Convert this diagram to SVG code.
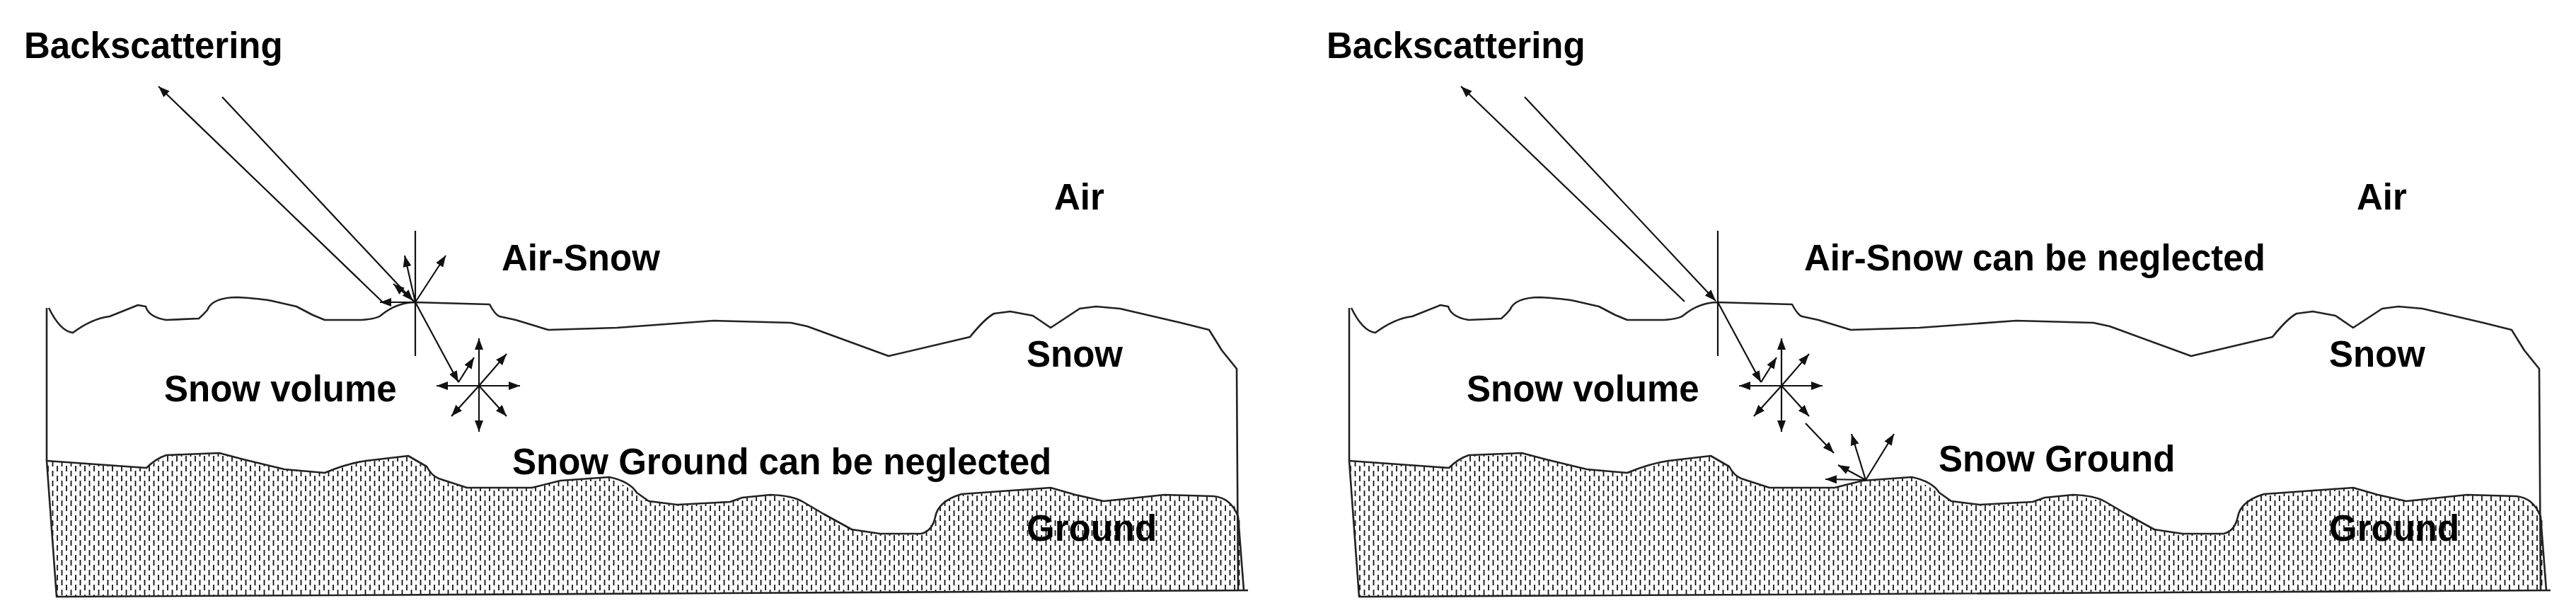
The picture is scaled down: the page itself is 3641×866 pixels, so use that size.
<svg xmlns="http://www.w3.org/2000/svg" xmlns:xlink="http://www.w3.org/1999/xlink" width="3641" height="866" viewBox="0 0 3641 866">
<style>
.t{font-family:"Liberation Sans",Arial,sans-serif;font-weight:bold;font-size:51px;fill:#000}
.c{fill:none;stroke:#222;stroke-width:2.6;stroke-linejoin:round}
.a{stroke:#111;stroke-width:2.2;fill:none}
.h{fill:url(#hatch)}
</style>
<defs>
<pattern id="hatch" patternUnits="userSpaceOnUse" width="13" height="14">
<line x1="3" y1="0" x2="3" y2="8" stroke="#111" stroke-width="1.8"/>
<line x1="9.5" y1="7" x2="9.5" y2="15" stroke="#111" stroke-width="1.8"/>
<line x1="9.5" y1="-7" x2="9.5" y2="1" stroke="#111" stroke-width="1.8"/>
</pattern>
<marker id="ah" markerUnits="userSpaceOnUse" markerWidth="18" markerHeight="14" refX="16" refY="6" orient="auto">
<path d="M0,0 L16,6 L0,12 Z" fill="#111"/>
</marker>
<g id="scene">
<path class="h" d="M66,651 L207,661 L235,643 L310,640 L344,649 L402,663 L459,668 L517,651 L577,644 L603,659 L620,676 L660,689 L752,689 L792,679 L861,674 L900,696 L917,708 L957,713 L1032,709 L1049,703 L1089,699 L1135,709 L1164,726 L1204,748 L1244,754 L1302,754 L1319,739 L1330,709 L1359,698 L1485,689 L1520,699 L1560,708 L1646,699 L1715,701 L1744,713 L1755,739 L1758,834 L80,843 Z"/>
<path class="c" d="M66,651 L207,661 Q220,648 235,643 L310,640 L344,649 L402,663 L459,668 Q490,655 517,651 L577,644 L603,659 Q610,672 620,676 L660,689 L752,689 L792,679 L861,674 Q890,680 900,696 L917,708 L957,713 L1032,709 L1049,703 L1089,699 Q1120,700 1135,709 L1164,726 L1204,748 L1244,754 L1302,754 Q1318,750 1322,730 Q1326,708 1359,698 L1485,689 L1520,699 L1560,708 L1646,699 L1715,701 Q1740,703 1750,730 L1758,834"/>
<path class="c" d="M66,435 L66,651 L80,843 L1764,834"/>
<path class="c" d="M69,435 Q85,468 103,470 Q130,450 155,447 L195,431 L206,433 Q210,448 235,452 L281,450 Q288,444 293,438 Q300,420 336,420 Q370,422 384,425 L419,433 L442,445 L459,452 L511,452 Q535,450 539,445 Q560,428 585,427 L692,430 Q700,445 706,447 L729,452 L775,466 L872,463 L1009,453 L1118,456 L1141,461 L1256,503 L1371,476 Q1392,450 1405,443 L1428,440 L1460,446 L1485,463 L1526,436 L1549,433 L1583,436 L1669,456 L1709,466 L1727,495 L1748,521 L1750,834"/>
<line class="a" x1="587" y1="326" x2="587" y2="503"/>
<line class="a" x1="540" y1="426" x2="224" y2="122" marker-end="url(#ah)"/>
<line class="a" x1="314" y1="137" x2="584" y2="425" marker-end="url(#ah)"/>
<line class="a" x1="587" y1="427" x2="648" y2="540" marker-end="url(#ah)"/>
<line class="a" x1="677" y1="545" x2="677" y2="478" marker-end="url(#ah)"/>
<line class="a" x1="677" y1="545" x2="677" y2="610" marker-end="url(#ah)"/>
<line class="a" x1="677" y1="545" x2="617" y2="545" marker-end="url(#ah)"/>
<line class="a" x1="677" y1="545" x2="735" y2="545" marker-end="url(#ah)"/>
<line class="a" x1="677" y1="545" x2="716" y2="500" marker-end="url(#ah)"/>
<line class="a" x1="677" y1="545" x2="638" y2="588" marker-end="url(#ah)"/>
<line class="a" x1="677" y1="545" x2="716" y2="588" marker-end="url(#ah)"/>
<line class="a" x1="648" y1="540" x2="670" y2="505" marker-end="url(#ah)"/>
<text class="t" x="34" y="82">Backscattering</text>
<text class="t" x="1490" y="296">Air</text>
<text class="t" x="1451" y="518">Snow</text>
<text class="t" x="232" y="567">Snow volume</text>
<text class="t" x="1451" y="764">Ground</text>
</g>
</defs>
<g id="panel-left">
<use xlink:href="#scene"/>
<text class="t" x="709" y="382">Air-Snow</text>
<text class="t" x="724" y="670">Snow Ground can be neglected</text>
</g>
<g id="panel-right" transform="translate(1841,0)">
<use xlink:href="#scene"/>
<text class="t" x="709" y="382">Air-Snow can be neglected</text>
<text class="t" x="899" y="666">Snow Ground</text>
</g>
<g id="connectors">
<line class="a" x1="587" y1="427" x2="572" y2="361" marker-end="url(#ah)"/>
<line class="a" x1="587" y1="427" x2="630" y2="361" marker-end="url(#ah)"/>
<line class="a" x1="587" y1="427" x2="537" y2="427" marker-end="url(#ah)"/>
<line class="a" x1="587" y1="427" x2="556" y2="401" marker-end="url(#ah)"/>
<line class="a" x1="2552" y1="598" x2="2592" y2="640" marker-end="url(#ah)"/>
<line class="a" x1="2637" y1="678" x2="2617" y2="613" marker-end="url(#ah)"/>
<line class="a" x1="2637" y1="678" x2="2677" y2="613" marker-end="url(#ah)"/>
<line class="a" x1="2637" y1="678" x2="2598" y2="657" marker-end="url(#ah)"/>
<line class="a" x1="2637" y1="678" x2="2580" y2="677" marker-end="url(#ah)"/>
</g>
</svg>
